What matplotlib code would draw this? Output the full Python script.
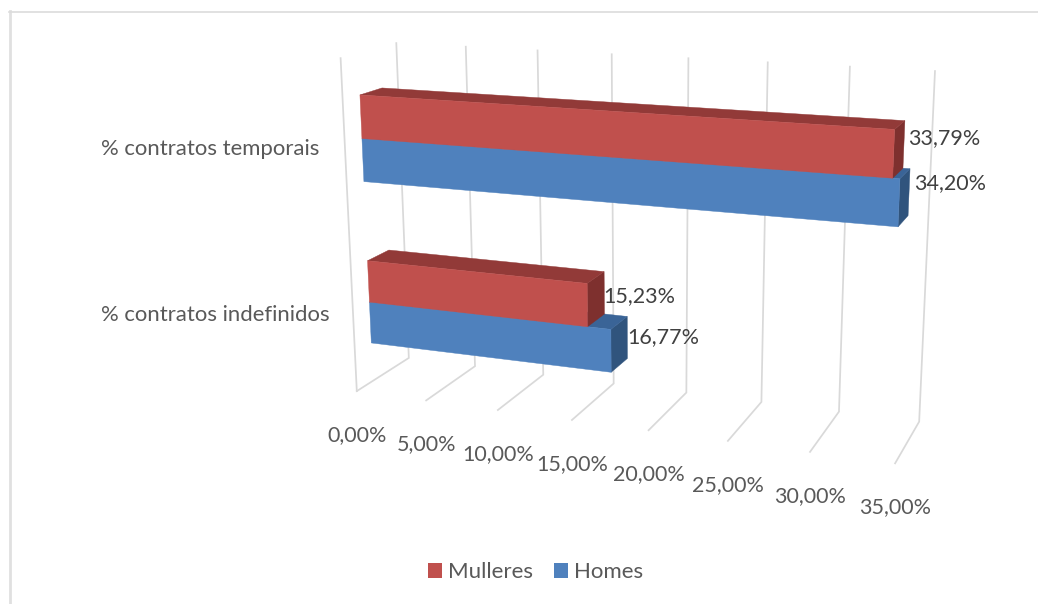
import numpy as np
import matplotlib
matplotlib.use("Agg")
import matplotlib.pyplot as plt
from matplotlib.patches import Polygon, Patch

plt.rcParams["font.family"] = ["Lato", "DejaVu Sans"]

# Chart data
categories = ["% contratos indefinidos", "% contratos temporais"]
series_names = ["Homes", "Mulleres"]
homes = [16.77, 34.20]
mulleres = [15.23, 33.79]
axis_ticks = [0, 5, 10, 15, 20, 25, 30, 35]
tick_labels = ["0,00%", "5,00%", "10,00%", "15,00%", "20,00%", "25,00%", "30,00%", "35,00%"]

W, H = 1038, 604
fig = plt.figure(figsize=(W / 100, H / 100), dpi=100)
ax = fig.add_axes([0, 0, 1, 1])
ax.set_xlim(0, W)
ax.set_ylim(H, 0)
ax.axis("off")

# Camera: the scene is value (x), height 0-1 (y) and depth 0-1 (z, 0 = front).
# The perspective matrix is solved from where the plot box edges land on the canvas.
back_top = [(396, 43), (466, 47), (537, 51), (612, 54), (688, 58), (768, 62), (850, 67), (935, 71)]
back_floor = [(409, 357), (475, 366), (543, 375), (614, 384), (687, 393), (761, 402), (839, 412), (919, 421)]
front_floor = [(357, 391), (426, 401), (497, 410), (572, 420), (649, 430), (728, 441), (810, 452), (895, 463)]
front_top_zero = (341, 58)

scene, canvas = [], []
for t, a, b, c in zip(axis_ticks, back_top, back_floor, front_floor):
    scene += [(t, 1, 1), (t, 0, 1), (t, 0, 0)]
    canvas += [a, b, c]
scene.append((0, 1, 0))
canvas.append(front_top_zero)


def solve_camera(points3d, points2d):
    rows = []
    for (x, y, z), (u, v) in zip(points3d, points2d):
        p = [x / 35, y, z, 1]
        rows.append(p + [0, 0, 0, 0] + [-u / 1000 * c for c in p])
        rows.append([0, 0, 0, 0] + p + [-v / 1000 * c for c in p])
    return np.linalg.svd(np.array(rows))[2][-1].reshape(3, 4)


CAMERA = solve_camera(scene, canvas)


def project(x, y, z):
    u, v, w = CAMERA @ np.array([x / 35, y, z, 1.0])
    return 1000 * u / w, 1000 * v / w


def quad(corners, color, zorder):
    ax.add_patch(Polygon([project(*c) for c in corners], closed=True, facecolor=color,
                         edgecolor=color, linewidth=0.3, zorder=zorder))


# Floor and back wall gridlines
GRID = "#D9D9D9"
for t in axis_ticks:
    path = [project(t, 1, 1), project(t, 0, 1), project(t, 0, 0)]
    ax.plot(*zip(*path), color=GRID, lw=1.25, solid_joinstyle="miter", zorder=1)
ax.plot(*zip(project(0, 1, 0), project(0, 0, 0)), color=GRID, lw=1.25, zorder=1)

# Bar geometry inside each category band
Z0, Z1 = 0.30, 0.70
BAND = 0.5
BAR = 0.129
PALETTE = {
    "Homes": ("#4F81BD", "#3A6497", "#30547D"),
    "Mulleres": ("#C0504D", "#923A38", "#7E302E"),
}


def draw_bar(value, y0, name, zorder):
    y1 = y0 + BAR
    front, top, side = PALETTE[name]
    quad([(value, y0, Z0), (value, y0, Z1), (value, y1, Z1), (value, y1, Z0)], side, zorder)
    quad([(0, y1, Z0), (value, y1, Z0), (value, y1, Z1), (0, y1, Z1)], top, zorder)
    quad([(0, y0, Z0), (value, y0, Z0), (value, y1, Z0), (0, y1, Z0)], front, zorder + 0.5)


LABEL_DARK = "#404040"
LABEL_SOFT = "#595959"
FS = 15.5
CATEGORY_LEFT = 101

for i, cat in enumerate(categories):
    base = BAND * i + BAND / 2 - BAR
    draw_bar(homes[i], base, "Homes", 2 + i * 2)
    draw_bar(mulleres[i], base + BAR, "Mulleres", 3 + i * 2)

    # Value labels just past the bar ends; the nudge follows the receding bar end
    for value, y0, shift in ((homes[i], base, -3), (mulleres[i], base + BAR, 0)):
        px, py = project(value, y0 + BAR / 2, Z1)
        dx = -1 + 0.3 * (value - 15)
        dy = 4 - 0.5 * (value - 15.23) + shift
        ax.text(px + dx, py - 1 + dy, f"{value:.2f}%".replace(".", ","), color=LABEL_DARK,
                fontsize=FS, ha="left", va="center", zorder=10)

    # Category label to the left of the plot box, level with the band centre
    _, cy = project(0, BAND * i + BAND / 2, 0)
    ax.text(CATEGORY_LEFT, cy + 4, cat, color=LABEL_SOFT, fontsize=15.9,
            ha="left", va="center", zorder=10)

# Value axis labels below the front floor edge
for t, lab in zip(axis_ticks, tick_labels):
    px, py = project(t, 0, 0)
    ax.text(px, py + 44, lab, color=LABEL_SOFT, fontsize=FS, ha="center", va="center")

# Legend
handles = [Patch(facecolor=PALETTE[n][0], label=n) for n in ("Mulleres", "Homes")]
ax.legend(handles=handles, loc="center", bbox_to_anchor=(535.5 / W, 1 - 572 / H), ncol=2,
          frameon=False, fontsize=16, labelcolor=LABEL_SOFT, handlelength=0.64, handleheight=0.64,
          handletextpad=0.27, columnspacing=0.95, borderpad=0)

# Chart area edges visible on the left and top
ax.plot([9.8, 9.8], [11, H], color="#E0E0E0", lw=2.0, zorder=0)
ax.plot([8.5, W], [12, 12], color="#DCDCDC", lw=1.2, zorder=0)

fig.savefig("out.png", dpi=100)
